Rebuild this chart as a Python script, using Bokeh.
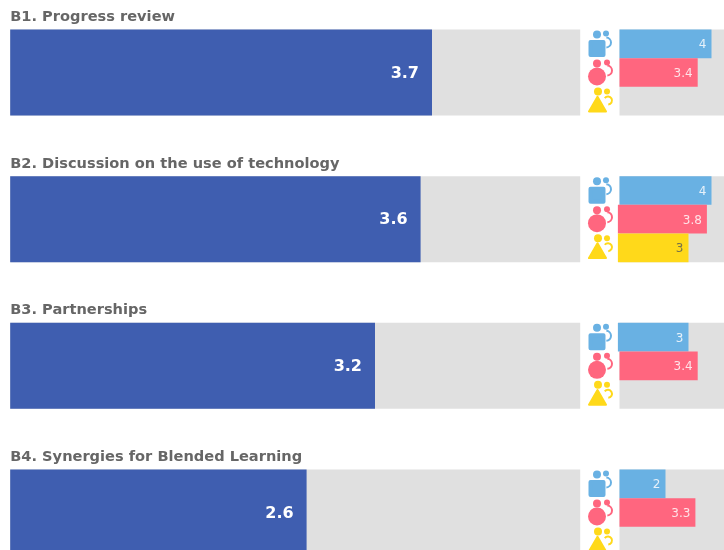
from bokeh.plotting import figure
from bokeh.models import Range1d
from bokeh.core.properties import value
from bokeh.embed import file_html
from bokeh.resources import INLINE

titles = ["B1. Progress review", "B2. Discussion on the use of technology",
          "B3. Partnerships", "B4. Synergies for Blended Learning"]
overall = [3.7, 3.6, 3.2, 2.6]
group_a = [4, 4, 3, 2]
group_b = [3.4, 3.8, 3.4, 3.3]
group_c = [None, 3, None, None]
rows = [0, 1, 2, 3]
max_score = 5

BLUE, GREY, SKY, RED, YEL = "#3f5eb0", "#e0e0e0", "#69b1e3", "#ff667f", "#ffd91a"
W, H = 724, 550
PITCH = 146.67
Y0 = 72
L0, LU = 9.7, 114
R0, RU = 619.0, 23
BAR_H = 86 / PITCH
SUB_H = BAR_H / 3
ICON_X = (596.5 - R0) / RU
FONT = value("DejaVu Sans")

p = figure(width=W, height=H, output_backend="svg", toolbar_location=None,
           x_axis_location=None, y_axis_location=None,
           x_range=Range1d(-L0 / LU, (W - L0) / LU),
           y_range=Range1d((H - Y0) / PITCH, -Y0 / PITCH), min_border=0)
p.extra_x_ranges["r"] = Range1d(-R0 / RU, (W - R0) / RU)
p.grid.visible = False
p.outline_line_color = None
p.background_fill_color = "white"
p.styles = {"position": "fixed", "left": "0", "top": "0"}

# left panel
p.hbar(y=rows, left=0, right=[max_score] * 4, height=BAR_H, fill_color=GREY, line_color=None)
p.hbar(y=rows, left=0, right=overall, height=BAR_H, fill_color=BLUE, line_color=None)
p.text(x=[0] * 4, y=[r - 57 / PITCH for r in rows], text=titles, text_font=FONT,
       text_font_style="bold", text_font_size="14.6px", text_color="#666666",
       text_baseline="middle", text_align="left")
p.text(x=overall, y=[r - 1 / PITCH for r in rows], text=[str(v) for v in overall], x_offset=-13, text_font=FONT,
       text_font_style="bold", text_font_size="16px", text_color="white",
       text_baseline="middle", text_align="right")

# right panel
p.hbar(y=rows, left=0, right=[max_score] * 4, height=BAR_H, fill_color=GREY, line_color=None, x_range_name="r")
shifted = {(1, 1), (1, 2), (2, 0)}
for sub, vals, col, tcol in [(-1, group_a, SKY, "#e6f1fa"), (0, group_b, RED, "#ffe3e8"), (1, group_c, YEL, "#77724a")]:
    rr = [r for r, v in zip(rows, vals) if v is not None]
    vv = [v for v in vals if v is not None]
    yy = [r + sub * SUB_H for r in rr]
    left = [-0.07 if (r, sub + 1) in shifted else 0 for r in rr]
    p.hbar(y=yy, left=left, right=vv, height=SUB_H, fill_color=col, line_color=None, x_range_name="r")
    p.text(x=vv, y=yy, text=[str(v) for v in vv], x_offset=-5, text_font=FONT,
           text_font_size="12px", text_color=tcol, text_baseline="middle", text_align="right", x_range_name="r")

# pictograms, one set per row
def dy(px):
    return px / PITCH

for r in rows:
    kw = dict(x_range_name="r")
    # blue person
    y = r - 38 / PITCH
    p.scatter([ICON_X], [y], marker="circle", size=8, fill_color=SKY, line_color=None, **kw)
    p.scatter([ICON_X], [y + dy(14)], marker="square", size=13, fill_color=SKY, line_color=SKY,
              line_width=4, line_join="round", **kw)
    p.scatter([ICON_X + 9 / RU], [y - dy(1)], marker="circle", size=6, fill_color=SKY, line_color=None, **kw)
    p.arc([ICON_X + 9 / RU], [y + dy(8)], radius=5, radius_units="screen", start_angle=-1.5, end_angle=1.5,
          direction="anticlock", line_color=SKY, line_width=2, **kw)
    # red person
    y = r - 9 / PITCH
    p.scatter([ICON_X], [y], marker="circle", size=8, fill_color=RED, line_color=None, **kw)
    p.scatter([ICON_X], [y + dy(13)], marker="circle", size=18, fill_color=RED, line_color=None, **kw)
    p.scatter([ICON_X + 10 / RU], [y - dy(1)], marker="circle", size=6, fill_color=RED, line_color=None, **kw)
    p.arc([ICON_X + 10 / RU], [y + dy(7)], radius=5, radius_units="screen", start_angle=-1.5, end_angle=1.5,
          direction="anticlock", line_color=RED, line_width=2, **kw)
    # yellow person
    y = r + 19 / PITCH
    p.scatter([ICON_X + 1 / RU], [y], marker="circle", size=8, fill_color=YEL, line_color=None, **kw)
    p.scatter([ICON_X + 0.5 / RU], [y + dy(15)], marker="triangle", size=17, fill_color=YEL, line_color=YEL,
              line_width=2, line_join="round", **kw)
    p.scatter([ICON_X + 10 / RU], [y], marker="circle", size=6, fill_color=YEL, line_color=None, **kw)
    p.arc([ICON_X + 11 / RU], [y + dy(9)], radius=4, radius_units="screen", start_angle=-1.5, end_angle=2.5,
          direction="anticlock", line_color=YEL, line_width=2, **kw)

open("out.html", "w").write(file_html(p, INLINE))
